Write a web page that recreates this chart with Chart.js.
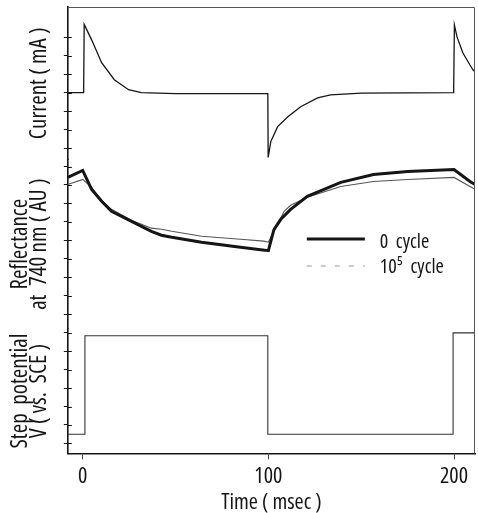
<!DOCTYPE html>
<html>
<head>
<meta charset="utf-8">
<script src="https://cdn.jsdelivr.net/npm/chart.js@4/dist/chart.umd.min.js"></script>
<style>
  body { margin: 0; background: #fff; }
  #wrap { width: 478px; height: 513px; position: relative; }
</style>
</head>
<body>
<div id="wrap"><canvas id="chart"></canvas></div>
<script>
// time axis (msec)
const xTickValues = [0, 100, 200];

// current trace (arbitrary units, one unit = one tick on the left axis)
const curTime = [-8, 0.5, 0.8, 4.8, 10.2, 17, 24.7, 31.6, 50, 99.7, 99.9, 101.3, 105, 110.5, 117.4, 126.5, 133.5, 150, 199.8, 200.2, 201.6, 204.8, 208.6, 210.2, 211.3];
const curValue = [19, 19, 22.7, 21.86, 20.62, 19.7, 19.16, 19.0, 18.95, 18.95, 15.49, 16.35, 17.16, 17.7, 18.24, 18.72, 18.88, 18.97, 19.0, 22.67, 22.02, 21.15, 20.5, 20.24, 20.13];

// reflectance at 740 nm, 0 cycle
const ref0Time = [-8, 0, 4.8, 10.2, 15.5, 26.3, 37, 42.4, 48, 64, 85, 98, 100, 103, 106.7, 112, 121, 139, 156.6, 175, 200, 208.6, 211.3];
const ref0Value = [14.41, 14.79, 13.76, 13.12, 12.57, 12.03, 11.49, 11.28, 11.17, 10.9, 10.63, 10.47, 10.44, 11.58, 12.14, 12.68, 13.38, 14.14, 14.57, 14.73, 14.84, 14.19, 14.03];

// reflectance at 740 nm, 10^5 cycle
const ref5Time = [-8, 0, 4.8, 10.2, 15.5, 26.3, 37, 42.4, 48, 64, 85, 97.6, 100, 103, 108.5, 112, 121, 139, 156.6, 175, 200, 208.6, 211.3];
const ref5Value = [14.03, 14.3, 13.87, 13.17, 12.68, 12.09, 11.66, 11.6, 11.49, 11.22, 11.06, 10.96, 10.9, 11.49, 12.57, 12.9, 13.33, 13.92, 14.19, 14.3, 14.41, 13.92, 13.76];

// step potential
const potTime = [-8, 1.2, 99.7, 199.5, 211.3];
const potValue = [0.5, 5.83, 0.5, 5.99, 5.99];

const seriesLabels = ['0  cycle', '10\u2075  cycle'];

const toPoints = (xs, ys) => xs.map((x, i) => ({x: x, y: ys[i]}));

const FONT = "'Open Sans', sans-serif";
const STRETCH = 'condensed';   // goes into the font string before the size
const INK = '#151515';

// y ticks shared by the three stacked left axes
const yTickValues = [];
for (let v = 0; v <= 22; v++) yTickValues.push(v);

function setTicks(values) {
  return function(scale) {
    scale.ticks = values.filter(v => v >= scale.min && v <= scale.max).map(v => ({value: v}));
  };
}

function leftAxis(min, max, weight, title, padTop) {
  return {
    type: 'linear',
    position: 'left',
    stack: 'left',
    stackWeight: weight,
    min: min,
    max: max,
    afterBuildTicks: setTicks(yTickValues),
    ticks: { display: false },
    grid: { drawOnChartArea: false, drawTicks: true, tickLength: 4, color: INK, lineWidth: 1 },
    border: { display: true, color: INK, width: 1.6 },
    title: {
      display: true,
      text: title,
      color: INK,
      font: { family: FONT, weight: STRETCH, size: 23, lineHeight: 0.85 },
      padding: { top: padTop, bottom: 14.25 }
    }
  };
}

// ticks that cross the left axis, and the thin top/right frame
const framePlugin = {
  id: 'frame',
  afterDraw(chart) {
    const {ctx, chartArea: a} = chart;
    ctx.save();
    ctx.strokeStyle = '#555';
    ctx.lineWidth = 1;
    ctx.beginPath();
    ctx.moveTo(a.left, a.top + 0.5);
    ctx.lineTo(a.right - 0.5, a.top + 0.5);
    ctx.lineTo(a.right - 0.5, a.bottom);
    ctx.stroke();
    ctx.strokeStyle = INK;
    ['yCur', 'yRef', 'yPot'].forEach(id => {
      const s = chart.scales[id];
      s.ticks.forEach(t => {
        const y = Math.round(s.getPixelForValue(t.value)) + 0.5;
        ctx.beginPath();
        ctx.moveTo(a.left, y);
        ctx.lineTo(a.left + 4, y);
        ctx.stroke();
      });
    });
    ctx.restore();
  }
};

// legend drawn inside the reflectance panel
const inlineLegend = {
  id: 'inlineLegend',
  afterDatasetsDraw(chart) {
    const {ctx, chartArea: a} = chart;
    const rows = [
      { ds: chart.data.datasets[1], lineY: a.top + 232, textY: a.top + 241, dash: [] },
      { ds: chart.data.datasets[2], lineY: a.top + 259, textY: a.top + 266, dash: [5, 9] }
    ];
    ctx.save();
    rows.forEach(r => {
      ctx.beginPath();
      ctx.setLineDash(r.dash);
      ctx.strokeStyle = r.dash.length ? '#999' : r.ds.borderColor;
      ctx.lineWidth = r.ds.borderWidth;
      ctx.moveTo(a.left + 239, r.lineY);
      ctx.lineTo(a.left + 297, r.lineY);
      ctx.stroke();
      ctx.setLineDash([]);
      ctx.fillStyle = INK;
      ctx.font = STRETCH + ' 20px ' + FONT;
      ctx.textBaseline = 'alphabetic';
      ctx.fillText(r.ds.label, a.left + 312, r.textY);
    });
    ctx.restore();
  }
};

new Chart(document.getElementById('chart').getContext('2d'), {
  type: 'scatter',
  data: {
    datasets: [
      { label: 'Current', data: toPoints(curTime, curValue), yAxisID: 'yCur',
        borderColor: INK, borderWidth: 1.3 },
      { label: seriesLabels[0], data: toPoints(ref0Time, ref0Value), yAxisID: 'yRef',
        borderColor: INK, borderWidth: 3 },
      { label: seriesLabels[1], data: toPoints(ref5Time, ref5Value), yAxisID: 'yRef',
        borderColor: '#555', borderWidth: 1.1 },
      { label: 'Step potential', data: toPoints(potTime, potValue), yAxisID: 'yPot',
        borderColor: '#333', borderWidth: 1.1, stepped: 'before' }
    ].map(d => Object.assign({ showLine: true, pointRadius: 0, fill: false, tension: 0 }, d))
  },
  options: {
    responsive: true,
    maintainAspectRatio: false,
    animation: false,
    layout: { padding: { top: 7, right: 3, left: 0, bottom: 0 } },
    plugins: { legend: { display: false }, tooltip: { enabled: false } },
    scales: {
      x: {
        type: 'linear',
        min: -8,
        max: 211.3,
        afterBuildTicks: setTicks(xTickValues),
        ticks: { color: INK, padding: 7, font: { family: FONT, weight: STRETCH, size: 22, lineHeight: 0.9 } },
        grid: { drawOnChartArea: false, drawTicks: true, tickLength: 6, color: '#444' },
        border: { display: true, color: INK, width: 1.6 },
        title: { display: true, text: 'Time ( msec )', color: INK,
          font: { family: FONT, weight: STRETCH, size: 22, lineHeight: 0.9 }, padding: { top: 0, bottom: 0 } }
      },
      yPot: leftAxis(-0.54, 6.21, 6.75, ['Step  potential', 'V ( vs.  SCE )'], 10.5),
      yRef: leftAxis(6.21, 15.38, 9.17, ['Reflectance', 'at  740 nm ( AU )'], 10.5),
      yCur: leftAxis(15.38, 23.64, 8.26, 'Current ( mA )', 30)
    }
  },
  plugins: [framePlugin, inlineLegend]
});
</script>
</body>
</html>
